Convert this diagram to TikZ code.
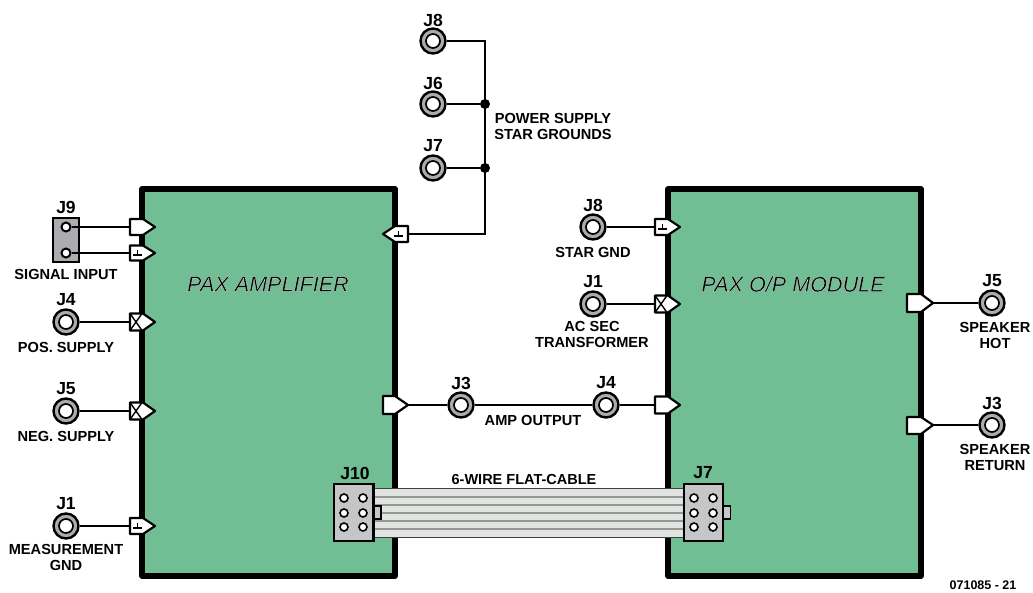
\documentclass[tikz,border=0pt]{standalone}
\usepackage{fontspec}
\setmainfont{Liberation Sans}
\usetikzlibrary{calc}
\definecolor{modgreen}{RGB}{113,189,148}
\definecolor{ringgray}{RGB}{170,172,175}
\definecolor{blockgray}{RGB}{196,198,200}
\definecolor{cablegray}{RGB}{226,228,226}
\definecolor{stripegray}{RGB}{150,152,150}
\newcommand{\halotext}[1]{\special{pdf:code 2 Tr 0.18 w 1 1 1 RG}#1\special{pdf:code 0 Tr 0 0 0 RG}}
\tikzset{
 x=1pt,y=-1pt,
 module/.style={draw=black,line width=5.5pt,fill=modgreen,line join=round},
 jackring/.style={circle,draw=black,line width=2.4pt,fill=ringgray,minimum size=25pt,inner sep=0pt},
 jackhole/.style={circle,draw=black,line width=1.7pt,fill=white,minimum size=14pt,inner sep=0pt},
 wire/.style={draw=black,line width=2pt},
 portbody/.style={draw=black,line width=2.2pt,fill=white,line join=round},
 portmark/.style={draw=black,line width=1.4pt},
 lbl/.style={font=\bfseries\fontsize{14.6}{16}\selectfont,align=center,text=black,inner sep=0pt},
 jlbl/.style={font=\bfseries\fontsize{17.5}{19}\selectfont,text=black,inner sep=0pt},
 modtitle/.style={font=\itshape\fontsize{21.6}{23}\selectfont,text=black,inner sep=0pt},
 pinhole/.style={circle,draw=black,line width=1.6pt,fill=white,minimum size=8pt,inner sep=0pt},
 hdr/.style={draw=black,line width=2.4pt,fill=blockgray},
 stripe/.style={draw=stripegray,line width=1.6pt},
 dotj/.style={circle,fill=black,minimum size=10pt,inner sep=0pt},
 sigpin/.style={circle,draw=black,line width=2pt,fill=white,minimum size=9pt,inner sep=0pt},
}
% name, x of back edge, y, half height, total length
\newcommand{\portE}[5]{%
 \draw[portbody] (#2,#3-#4) -- ++(#5-12,0) -- (#2+#5,#3) -- (#2+#5-12,#3+#4) -- (#2,#3+#4) -- cycle;
 \coordinate (#1) at (#2,#3);}
\newcommand{\gndE}[2]{%
 \draw[portmark] (#1+3,#2+2) -- ++(9,0) (#1+7.5,#2+2) -- ++(0,-5);}
\newcommand{\crossE}[3]{%
 \draw[portmark] (#1,#2-#3) -- (#1+12,#2+#3) (#1+12,#2-#3) -- (#1,#2+#3);}
\newcommand{\jack}[3]{%
 \node[jackring] (#1) at (#2,#3) {};
 \node[jackhole] (#1h) at (#2,#3) {};}
\begin{document}
\begin{tikzpicture}
\useasboundingbox (0,0) rectangle (1033,592);
% modules
\draw[module] (142,189) rectangle (395,576);
\draw[module] (668,189) rectangle (921,576);
\node[modtitle] (ampt) at (268,284) {\halotext{PAX AMPLIFIER}};
\node[modtitle] (opt) at (793,284) {\halotext{PAX O/P MODULE}};

% top star grounds
\jack{jviii}{433}{41}
\jack{jvi}{433}{104}
\jack{jvii}{433}{168}
\node[jlbl] (ljviii) at (433,20) {J8};
\node[jlbl] (ljvi) at (433,83) {J6};
\node[jlbl] (ljvii) at (433,146) {J7};
\node[dotj] (dota) at (485,104) {};
\node[dotj] (dotb) at (485,168) {};
\draw[portbody] (395,226) -- (408,226) -- (408,242) -- (395,242) -- (383,234) -- cycle;
\draw[portmark] (394,236) -- ++(9,0) (398.5,236) -- ++(0,-5);
\coordinate (pgb) at (408,234);
\coordinate (cor) at (485,234);
\draw[wire] (jviii.east) -- (485,41) -- (dota.center) -- (dotb.center) -- (cor) -- (pgb);
\draw[wire] (jvi.east) -- (dota);
\draw[wire] (jvii.east) -- (dotb);
\node[lbl] (psg) at (553,126) {POWER SUPPLY\\STAR GROUNDS};

% J9 signal input
\draw[draw=black,line width=2.4pt,fill=ringgray] (53,218) rectangle (79,262);
\node[sigpin] (sa) at (66,227) {};
\node[sigpin] (sb) at (66,253) {};
\node[jlbl] (lj9) at (66,207) {J9};
\node[lbl] (lsig) at (66,274) {SIGNAL INPUT};
\portE{psa}{130}{227}{8}{25}
\portE{psb}{130}{253}{7.5}{25}
\gndE{130}{253}
\draw[wire] (sa) -- (psa);
\draw[wire] (sb) -- (psb);

% left jacks
\jack{jiv}{66}{322}
\node[jlbl] (ljiv) at (66,300) {J4};
\node[lbl] (lpos) at (66,347) {POS. SUPPLY};
\portE{ppos}{130}{322}{8.5}{25}
\crossE{130}{322}{8.5}
\draw[wire] (jiv.east) -- (ppos);

\jack{jv}{66}{411}
\node[jlbl] (ljv) at (66,389) {J5};
\node[lbl] (lneg) at (66,436) {NEG. SUPPLY};
\portE{pneg}{130}{411}{8.5}{25}
\crossE{130}{411}{8.5}
\draw[wire] (jv.east) -- (pneg);

\jack{ji}{66}{526}
\node[jlbl] (lji) at (66,504) {J1};
\node[lbl] (lmeas) at (66,557) {MEASUREMENT\\GND};
\portE{pmeas}{130}{526}{8}{25}
\gndE{130}{526}
\draw[wire] (ji.east) -- (pmeas);

% amp output
\draw[portbody] (383,396) -- (395,396) -- (408,405) -- (395,414) -- (383,414) -- cycle;
\coordinate (pamp) at (408,405);
\jack{jiii}{461}{405}
\jack{jivb}{606}{405}
\node[jlbl] (ljiii) at (461,383) {J3};
\node[jlbl] (ljivb) at (606,383) {J4};
\node[lbl] (lamp) at (533,420) {AMP OUTPUT};
\portE{popin}{655}{405}{8.5}{25}
\draw[wire] (pamp) -- (jiii.west);
\draw[wire] (jiii.east) -- (jivb.west);
\draw[wire] (jivb.east) -- (popin);

% right module inputs
\jack{jviiib}{593}{227}
\node[jlbl] (ljviiib) at (593,205) {J8};
\node[lbl] (lstar) at (593,252) {STAR GND};
\portE{pstar}{655}{227}{8}{25}
\gndE{655}{227}
\draw[wire] (jviiib.east) -- (pstar);

\jack{jib}{593}{304}
\node[jlbl] (ljib) at (593,282) {J1};
\node[lbl] (lac) at (592,334) {AC SEC\\TRANSFORMER};
\portE{pac}{655}{304}{8.5}{25}
\crossE{655}{304}{8.5}
\draw[wire] (jib.east) -- (pac);

% speaker outputs
\draw[portbody] (907,294) -- (921,294) -- (933,303) -- (921,312) -- (907,312) -- cycle;
\coordinate (phot) at (933,303);
\jack{jvb}{992}{303}
\node[jlbl] (ljvb) at (992,281) {J5};
\node[lbl] (lhot) at (995,335) {SPEAKER\\HOT};
\draw[wire] (phot) -- (jvb.west);

\draw[portbody] (907,417) -- (921,417) -- (933,425) -- (921,434) -- (907,434) -- cycle;
\coordinate (pret) at (933,425);
\jack{jiiib}{992}{425}
\node[jlbl] (ljiiib) at (992,403) {J3};
\node[lbl] (lret) at (995,457) {SPEAKER\\RETURN};
\draw[wire] (pret) -- (jiiib.west);

% flat cable
\draw[draw=black!75,line width=1.3pt,fill=cablegray] (374,488.5) rectangle (684,537.5);
\foreach \yy in {497,505,513,521,529}{
 \draw[stripe] (374,\yy) -- (684,\yy);}
\node[lbl,font=\bfseries\fontsize{14.5}{16}\selectfont] (lflat) at (524,479) {6-WIRE FLAT-CABLE};

% J10 header
\draw[draw=black,line width=1.5pt,fill=blockgray] (374,506) rectangle (381,519);
\draw[hdr] (334,484) rectangle (373.5,541);
\node[jlbl] (lj10) at (355,473) {J10};
\foreach \cx/\cn in {344/a,363/b}{\foreach \cy/\rn in {498/a,513/b,527/c}{
 \node[pinhole] (hl\cn\rn) at (\cx,\cy) {};}}

% J7 header
\draw[draw=black,line width=1.5pt,fill=blockgray] (723,506) rectangle (730.5,519);
\draw[hdr] (684,484) rectangle (723,541);
\node[jlbl] (lj7) at (703,473) {J7};
\foreach \cx/\cn in {694/a,713/b}{\foreach \cy/\rn in {498/a,513/b,527/c}{
 \node[pinhole] (hr\cn\rn) at (\cx,\cy) {};}}

\node[lbl,font=\bfseries\fontsize{12.5}{14}\selectfont] (fig) at (983,585.5) {071085 - 21};
\end{tikzpicture}
\end{document}
